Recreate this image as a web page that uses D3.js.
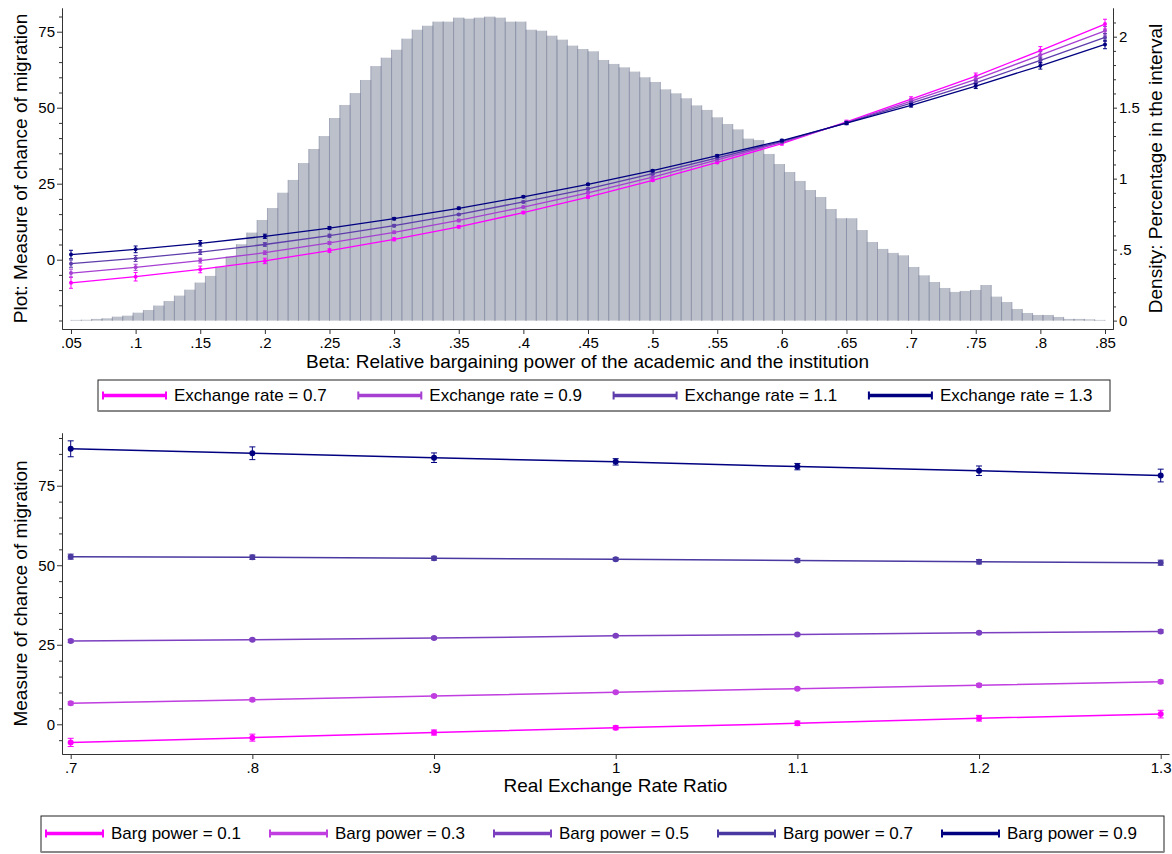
<!DOCTYPE html>
<html>
<head>
<meta charset="utf-8">
<script src="https://cdn.jsdelivr.net/npm/d3@7"></script>
<style>
  body { margin: 0; background: #fff; }
  text { font-family: "Liberation Sans", Arial, Helvetica, sans-serif; fill: #000; }
</style>
</head>
<body>
<div id="chart"></div>
<script>
// ---- top panel data: migration by beta, for four exchange rates
var betaValues = [.05, .1, .15, .2, .25, .3, .35, .4, .45, .5, .55, .6, .65, .7, .75, .8, .85];
var exRateLabels = ["Exchange rate = 0.7", "Exchange rate = 0.9", "Exchange rate = 1.1", "Exchange rate = 1.3"];

var migEx07 = [-7.6, -5.6, -3.2, -0.4, 3.0, 6.7, 10.8, 15.5, 20.6, 26.1, 32.0, 38.2, 45.3, 52.8, 60.4, 68.8, 77.5];
var migEx09 = [-4.4, -2.5, -0.3, 2.3, 5.5, 9.0, 12.9, 17.3, 22.0, 27.2, 32.8, 38.6, 45.1, 52.2, 59.3, 67.3, 75.3];
var migEx11 = [-1.3, 0.4, 2.5, 5.0, 7.9, 11.2, 14.9, 19.0, 23.3, 28.3, 33.5, 38.9, 45.0, 51.5, 58.2, 65.6, 73.1];
var migEx13 = [1.7, 3.4, 5.4, 7.7, 10.4, 13.5, 16.9, 20.7, 24.8, 29.3, 34.2, 39.2, 44.9, 50.8, 57.1, 63.8, 70.8];

// half width of the confidence bars
var ciEx07 = [1.8, 1.4, 1.1, 0.9, 0.6, 0.5, 0.4, 0.4, 0.4, 0.4, 0.4, 0.5, 0.6, 0.8, 1.0, 1.3, 1.6];
var ciEx09 = [1.3, 1.0, 0.8, 0.6, 0.5, 0.4, 0.4, 0.3, 0.3, 0.3, 0.4, 0.4, 0.5, 0.7, 0.9, 1.1, 1.4];
var ciEx11 = [1.2, 1.0, 0.8, 0.6, 0.5, 0.4, 0.3, 0.3, 0.3, 0.3, 0.4, 0.4, 0.5, 0.6, 0.8, 1.0, 1.3];
var ciEx13 = [1.4, 1.1, 0.9, 0.7, 0.5, 0.4, 0.4, 0.3, 0.3, 0.3, 0.4, 0.4, 0.5, 0.6, 0.8, 1.1, 1.4];

// histogram of beta (density, bins of .008 from .05)
var histStart = 0.05, histWidth = 0.008;
var histDensity = [
  0.005, 0.006, 0.012, 0.016, 0.028, 0.035, 0.056, 0.075, 0.106, 0.138,
  0.176, 0.218, 0.268, 0.315, 0.380, 0.451, 0.538, 0.620, 0.709, 0.793,
  0.901, 0.991, 1.110, 1.209, 1.300, 1.427, 1.519, 1.603, 1.695, 1.793,
  1.852, 1.908, 1.986, 2.049, 2.077, 2.106, 2.106, 2.134, 2.127, 2.134,
  2.141, 2.134, 2.106, 2.106, 2.049, 2.042, 2.007, 1.979, 1.937, 1.913,
  1.897, 1.836, 1.808, 1.784, 1.754, 1.714, 1.681, 1.629, 1.601, 1.566,
  1.516, 1.484, 1.432, 1.385, 1.347, 1.282, 1.272, 1.174, 1.103, 1.047,
  0.984, 0.920, 0.871, 0.786, 0.721, 0.721, 0.638, 0.554, 0.505, 0.477,
  0.460, 0.378, 0.319, 0.272, 0.230, 0.202, 0.209, 0.216, 0.251, 0.169,
  0.131, 0.082, 0.054, 0.040, 0.040, 0.026, 0.012, 0.012, 0.009, 0.005
];

var topLeftTicks = [0, 25, 50, 75];
var topLeftMinor = [-20, -15, -10, -5, 5, 10, 15, 20, 30, 35, 40, 45, 55, 60, 65, 70, 80];
var densityTicks = [0, .5, 1, 1.5, 2];
var densityMinor = [.1, .2, .3, .4, .6, .7, .8, .9, 1.1, 1.2, 1.3, 1.4, 1.6, 1.7, 1.8, 1.9, 2.1];

// ---- bottom panel data: migration by exchange rate ratio, for five bargaining powers
var ratioValues = [.7, .8, .9, 1, 1.1, 1.2, 1.3];
var bargLabels = ["Barg power = 0.1", "Barg power = 0.3", "Barg power = 0.5", "Barg power = 0.7", "Barg power = 0.9"];

var migBp01 = [-5.7, -4.2, -2.6, -1.1, 0.3, 1.9, 3.2];
var migBp03 = [6.6, 7.7, 8.9, 10.1, 11.2, 12.3, 13.4];
var migBp05 = [26.2, 26.6, 27.1, 27.8, 28.2, 28.8, 29.2];
var migBp07 = [52.7, 52.5, 52.2, 51.9, 51.5, 51.1, 50.8];
var migBp09 = [86.6, 85.2, 83.8, 82.5, 81.0, 79.7, 78.2];

var ciBp01 = [1.3, 1.1, 0.8, 0.6, 0.7, 0.9, 1.2];
var ciBp03 = [0.5, 0.5, 0.4, 0.4, 0.4, 0.5, 0.5];
var ciBp05 = [0.5, 0.4, 0.4, 0.4, 0.4, 0.4, 0.5];
var ciBp07 = [0.8, 0.7, 0.6, 0.5, 0.6, 0.7, 0.8];
var ciBp09 = [2.5, 2.0, 1.5, 1.0, 1.0, 1.5, 2.0];

var bottomLeftTicks = [0, 25, 50, 75];
var bottomLeftMinor = [-5, 5, 10, 15, 20, 30, 35, 40, 45, 55, 60, 65, 70, 80, 85, 90];

var exRateColors = ["#ff00ff", "#a63fd2", "#5d3dab", "#000080"];
var bargColors = ["#ff00ff", "#c03de0", "#7b3fc0", "#4a39a0", "#000080"];

var font = '"Liberation Sans", Arial, Helvetica, sans-serif';

function stataFormat(d) {
    var s = d3.format("~g")(d);
    return s.replace(/^0\./, ".").replace(/^-0\./, "-.");
}

var svg = d3.select("#chart")
    .append("svg")
    .attr("width", 1172)
    .attr("height", 854);

function styleAxis(g, size) {
    g.attr("font-family", font).attr("font-size", size).attr("color", "#000");
    g.selectAll("line").attr("stroke", "#333");
    g.selectAll(".domain").attr("stroke", "#333");
}

function drawSeries(g, x, xs, y, series, capW, r, lw) {
    series.forEach(function(s) {
        var line = d3.line()
            .x(function(d, i) { return x(xs[i]); })
            .y(function(d) { return y(d); });

        g.append("path")
            .attr("d", line(s.values))
            .attr("fill", "none")
            .attr("stroke", s.color)
            .attr("stroke-width", lw);

        var bars = g.append("g").attr("stroke", s.color).attr("stroke-width", 1);
        s.values.forEach(function(v, i) {
            var cx = x(xs[i]);
            var lo = y(v - s.ci[i]), hi = y(v + s.ci[i]);
            bars.append("line").attr("x1", cx).attr("x2", cx).attr("y1", lo).attr("y2", hi);
            bars.append("line").attr("x1", cx - capW).attr("x2", cx + capW).attr("y1", lo).attr("y2", lo);
            bars.append("line").attr("x1", cx - capW).attr("x2", cx + capW).attr("y1", hi).attr("y2", hi);
        });

        g.append("g").selectAll("circle")
            .data(s.values)
            .enter()
            .append("circle")
            .attr("cx", function(d, i) { return x(xs[i]); })
            .attr("cy", function(d) { return y(d); })
            .attr("r", r)
            .attr("fill", s.color);
    });
}

function drawLegend(box, labels, colors, startX, step, lineLen, cy) {
    var lg = svg.append("g");
    lg.append("rect")
        .attr("x", box[0]).attr("y", box[1])
        .attr("width", box[2]).attr("height", box[3])
        .attr("fill", "#fff")
        .attr("stroke", "#222")
        .attr("stroke-width", 1);
    lg.append("line")
        .attr("x1", box[0]).attr("x2", box[0] + box[2])
        .attr("y1", box[1] + box[3]).attr("y2", box[1] + box[3])
        .attr("stroke", "#888").attr("stroke-width", 2);

    labels.forEach(function(lab, i) {
        var x0 = startX + i * step;
        lg.append("line")
            .attr("x1", x0).attr("x2", x0 + lineLen)
            .attr("y1", cy).attr("y2", cy)
            .attr("stroke", colors[i]).attr("stroke-width", 3.5);
        [x0, x0 + lineLen].forEach(function(cx) {
            lg.append("rect")
                .attr("x", cx - 1).attr("y", cy - 4)
                .attr("width", 2).attr("height", 8)
                .attr("fill", colors[i]);
        });
        lg.append("text")
            .attr("x", x0 + lineLen + 8)
            .attr("y", cy)
            .attr("dy", "0.35em")
            .attr("font-size", 17)
            .text(lab);
    });
}

// ================= top panel =================
var xTop = d3.scaleLinear().domain([0.04304, 0.8562]).range([62, 1113]);
var yTop = d3.scaleLinear().domain([-22.8, 82.8]).range([329, 8]);
var yDen = d3.scaleLinear().domain([-0.059, 2.202]).range([329, 8]);

var topG = svg.append("g");

// histogram
var hist = topG.append("g");
hist.selectAll("rect")
    .data(histDensity)
    .enter()
    .append("rect")
    .attr("x", function(d, i) { return xTop(histStart + i * histWidth); })
    .attr("width", function(d, i) { return xTop(histStart + (i + 1) * histWidth) - xTop(histStart + i * histWidth); })
    .attr("y", function(d) { return yDen(d); })
    .attr("height", function(d) { return yDen(0) - yDen(d); })
    .attr("fill", "#bcc0cb");

hist.selectAll("path")
    .data(histDensity)
    .enter()
    .append("path")
    .attr("d", function(d, i) {
        var x0 = xTop(histStart + i * histWidth), x1 = xTop(histStart + (i + 1) * histWidth);
        return "M" + x0 + "," + yDen(0) + "V" + yDen(d) + "M" + x1 + "," + yDen(0) + "V" + yDen(d);
    })
    .attr("fill", "none")
    .attr("stroke", "#8a8fa6")
    .attr("stroke-width", 0.7);

var topSeries = [
    {values: migEx07, ci: ciEx07, color: exRateColors[0]},
    {values: migEx09, ci: ciEx09, color: exRateColors[1]},
    {values: migEx11, ci: ciEx11, color: exRateColors[2]},
    {values: migEx13, ci: ciEx13, color: exRateColors[3]}
];
drawSeries(topG, xTop, betaValues, yTop, topSeries, 2, 2, 1.3);

// axes
topG.append("g")
    .attr("transform", "translate(62,0)")
    .call(d3.axisLeft(yTop).tickValues(topLeftMinor).tickSize(3).tickFormat("").tickSizeOuter(0))
    .call(styleAxis, 15);
topG.append("g")
    .attr("transform", "translate(62,0)")
    .call(d3.axisLeft(yTop).tickValues(topLeftTicks).tickSize(5).tickPadding(2).tickSizeOuter(0))
    .call(styleAxis, 15);

topG.append("g")
    .attr("transform", "translate(1113,0)")
    .call(d3.axisRight(yDen).tickValues(densityMinor).tickSize(3).tickFormat("").tickSizeOuter(0))
    .call(styleAxis, 15);
topG.append("g")
    .attr("transform", "translate(1113,0)")
    .call(d3.axisRight(yDen).tickValues(densityTicks).tickSize(4).tickPadding(2).tickFormat(stataFormat).tickSizeOuter(0))
    .call(styleAxis, 15);

topG.append("g")
    .attr("transform", "translate(0,329)")
    .call(d3.axisBottom(xTop).tickValues(betaValues).tickSize(5).tickPadding(3).tickFormat(stataFormat).tickSizeOuter(0))
    .call(styleAxis, 15);

topG.append("text")
    .attr("x", 587.5).attr("y", 361.5).attr("dy", "0.35em")
    .attr("text-anchor", "middle").attr("font-size", 19)
    .text("Beta: Relative bargaining power of the academic and the institution");
topG.append("text")
    .attr("transform", "translate(20,168.5) rotate(-90)")
    .attr("dy", "0.35em")
    .attr("text-anchor", "middle").attr("font-size", 19)
    .text("Plot: Measure of chance of migration");
topG.append("text")
    .attr("transform", "translate(1155,168.5) rotate(-90)")
    .attr("dy", "0.35em")
    .attr("text-anchor", "middle").attr("font-size", 19)
    .text("Density: Percentage in the interval");

drawLegend([98, 380, 1012, 31], exRateLabels, exRateColors, 103, 255.3, 63, 395.5);

// ================= bottom panel =================
var xBot = d3.scaleLinear().domain([0.69521, 1.30457]).range([62, 1169]);
var yBot = d3.scaleLinear().domain([-9.34, 91.57]).range([754, 433]);

var botG = svg.append("g");

var botSeries = [
    {values: migBp01, ci: ciBp01, color: bargColors[0]},
    {values: migBp03, ci: ciBp03, color: bargColors[1]},
    {values: migBp05, ci: ciBp05, color: bargColors[2]},
    {values: migBp07, ci: ciBp07, color: bargColors[3]},
    {values: migBp09, ci: ciBp09, color: bargColors[4]}
];
drawSeries(botG, xBot, ratioValues, yBot, botSeries, 3, 3, 1.5);

botG.append("g")
    .attr("transform", "translate(62,0)")
    .call(d3.axisLeft(yBot).tickValues(bottomLeftMinor).tickSize(3).tickFormat("").tickSizeOuter(0))
    .call(styleAxis, 15);
botG.append("g")
    .attr("transform", "translate(62,0)")
    .call(d3.axisLeft(yBot).tickValues(bottomLeftTicks).tickSize(5).tickPadding(2).tickSizeOuter(0))
    .call(styleAxis, 15);
botG.append("g")
    .attr("transform", "translate(0,754)")
    .call(d3.axisBottom(xBot).tickValues(ratioValues).tickSize(5).tickPadding(3).tickFormat(stataFormat).tickSizeOuter(0))
    .call(styleAxis, 15);

botG.append("text")
    .attr("x", 615.5).attr("y", 785.5).attr("dy", "0.35em")
    .attr("text-anchor", "middle").attr("font-size", 19)
    .text("Real Exchange Rate Ratio");
botG.append("text")
    .attr("transform", "translate(20,593.5) rotate(-90)")
    .attr("dy", "0.35em")
    .attr("text-anchor", "middle").attr("font-size", 19)
    .text("Measure of chance of migration");

drawLegend([41, 816, 1123, 36], bargLabels, bargColors, 46, 224, 57, 833.5);
</script>
</body>
</html>
